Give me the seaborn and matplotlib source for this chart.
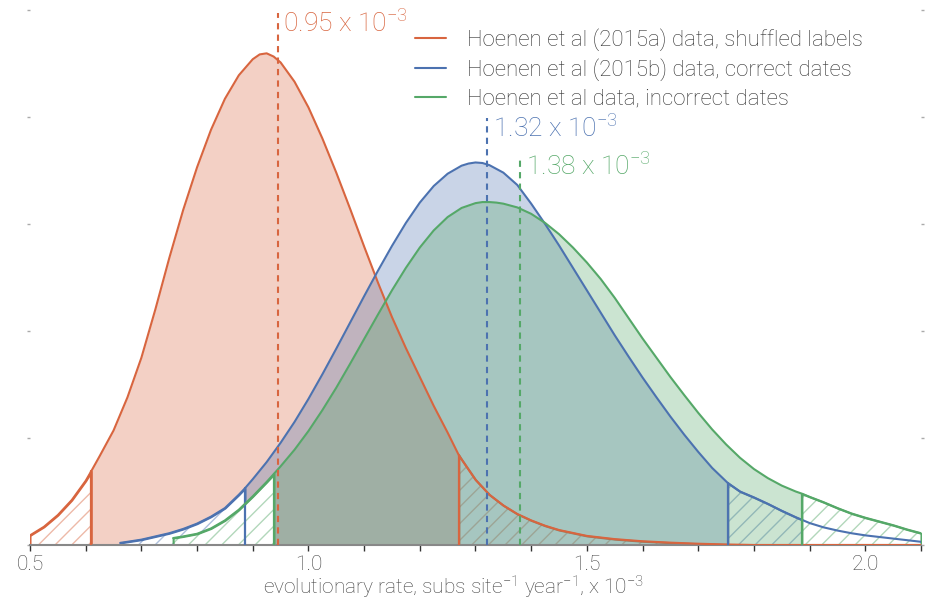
import numpy as np
import matplotlib
matplotlib.use('Agg')
import matplotlib.pyplot as plt
import seaborn as sns

# density curves (rate in units of 1e-3)
shuffled_x = [0.500, 0.525, 0.550, 0.575, 0.600, 0.610, 0.625, 0.650, 0.675, 0.700,
              0.725, 0.750, 0.775, 0.800, 0.825, 0.850, 0.875, 0.900, 0.9125, 0.925,
              0.9375, 0.950, 0.975, 1.000, 1.025, 1.050, 1.075, 1.100, 1.125, 1.150,
              1.175, 1.200, 1.225, 1.250, 1.270, 1.275, 1.300, 1.325, 1.350, 1.375,
              1.400, 1.425, 1.450, 1.500, 1.550, 1.600, 1.650, 1.700, 1.750, 1.800,
              1.900, 2.000, 2.100]
shuffled_y = [0.09, 0.17, 0.28, 0.42, 0.60, 0.69, 0.83, 1.07, 1.38, 1.75,
              2.20, 2.68, 3.13, 3.53, 3.88, 4.17, 4.39, 4.54, 4.585, 4.595,
              4.565, 4.51, 4.33, 4.09, 3.80, 3.48, 3.14, 2.79, 2.45, 2.13,
              1.84, 1.57, 1.30, 1.05, 0.84, 0.80, 0.61, 0.47, 0.37, 0.29,
              0.23, 0.18, 0.14, 0.085, 0.055, 0.035, 0.022, 0.012, 0.005, 0.0,
              0.0, 0.0, 0.0]

correct_x = [0.662, 0.675, 0.700, 0.725, 0.750, 0.775, 0.800, 0.825, 0.850, 0.875,
             0.886, 0.900, 0.925, 0.950, 0.975, 1.000, 1.025, 1.050, 1.075, 1.100,
             1.125, 1.150, 1.175, 1.200, 1.225, 1.250, 1.275, 1.2875, 1.300, 1.3125,
             1.325, 1.350, 1.375, 1.400, 1.425, 1.450, 1.475, 1.500, 1.525, 1.550,
             1.575, 1.600, 1.625, 1.650, 1.675, 1.700, 1.725, 1.753, 1.775, 1.800,
             1.825, 1.850, 1.875, 1.900, 1.925, 1.950, 1.975, 2.000, 2.050, 2.100]
correct_y = [0.02, 0.03, 0.05, 0.08, 0.11, 0.15, 0.20, 0.265, 0.345, 0.47,
             0.53, 0.615, 0.775, 0.955, 1.15, 1.365, 1.595, 1.835, 2.08, 2.325,
             2.565, 2.795, 3.01, 3.20, 3.355, 3.47, 3.545, 3.565, 3.575, 3.57,
             3.55, 3.48, 3.365, 3.19, 3.00, 2.80, 2.59, 2.38, 2.17, 1.96,
             1.76, 1.565, 1.38, 1.20, 1.03, 0.87, 0.72, 0.58, 0.50, 0.445,
             0.385, 0.32, 0.26, 0.205, 0.165, 0.135, 0.11, 0.09, 0.06, 0.03]

incorrect_x = [0.757, 0.775, 0.800, 0.825, 0.850, 0.875, 0.886, 0.900, 0.925, 0.938,
               0.950, 0.975, 1.000, 1.025, 1.050, 1.075, 1.100, 1.125, 1.150, 1.175,
               1.200, 1.225, 1.250, 1.275, 1.300, 1.3125, 1.325, 1.3375, 1.350, 1.375,
               1.400, 1.425, 1.450, 1.475, 1.500, 1.525, 1.550, 1.575, 1.600, 1.625,
               1.650, 1.675, 1.700, 1.725, 1.750, 1.775, 1.800, 1.825, 1.850, 1.875,
               1.886, 1.900, 1.925, 1.950, 1.975, 2.000, 2.025, 2.050, 2.075, 2.100]
incorrect_y = [0.065, 0.08, 0.105, 0.155, 0.23, 0.33, 0.385, 0.455, 0.59, 0.665,
               0.735, 0.89, 1.065, 1.26, 1.47, 1.695, 1.925, 2.155, 2.38, 2.59,
               2.78, 2.94, 3.065, 3.15, 3.195, 3.205, 3.205, 3.20, 3.19, 3.155,
               3.095, 3.01, 2.905, 2.78, 2.64, 2.485, 2.31, 2.12, 1.93, 1.75,
               1.57, 1.40, 1.235, 1.08, 0.94, 0.815, 0.71, 0.625, 0.555, 0.50,
               0.48, 0.45, 0.40, 0.345, 0.295, 0.255, 0.22, 0.185, 0.145, 0.11]

legend_labels = ['Hoenen et al (2015a) data, shuffled labels',
                 'Hoenen et al (2015b) data, correct dates',
                 'Hoenen et al data, incorrect dates']
hpd_lo = [0.610, 0.886, 0.938]
hpd_hi = [1.270, 1.753, 1.886]
medians = [0.945, 1.321, 1.380]
median_text = ['0.95', '1.32', '1.38']
median_top = [4.97, 3.99, 3.63]
colours = ['#d8653f', '#4c72b0', '#55a868']

sns.set_style('ticks')
plt.rcParams['font.family'] = ['Roboto', 'DejaVu Sans']
plt.rcParams['font.weight'] = 'light'
plt.rcParams['axes.labelweight'] = 'light'
plt.rcParams['mathtext.default'] = 'regular'
plt.rcParams['hatch.linewidth'] = 1.0

fig = plt.figure(figsize=(9.31, 6.01), dpi=100)
ax = fig.add_axes([30 / 931, 56 / 601, 891 / 931, 535 / 601])

series = [(shuffled_x, shuffled_y), (correct_x, correct_y), (incorrect_x, incorrect_y)]
for i, (xs, ys) in enumerate(series):
    x = np.array(xs)
    y = np.array(ys)
    c = colours[i]
    inside = (x >= hpd_lo[i]) & (x <= hpd_hi[i])
    ax.fill_between(x, y, where=inside, color=c, alpha=0.3, lw=0, zorder=1)
    for tail in [x <= hpd_lo[i], x >= hpd_hi[i]]:
        if tail.sum() > 1:
            ax.fill_between(x, y, where=tail, facecolor='white', edgecolor=c,
                            lw=1.5, zorder=1)
            ax.fill_between(x, y, where=tail, facecolor='none', edgecolor=c,
                            hatch='//', lw=0, alpha=0.45, zorder=1)
    for b in [hpd_lo[i], hpd_hi[i]]:
        ax.plot([b, b], [0, np.interp(b, x, y)], color=c, lw=1.6, zorder=3)
    sns.lineplot(x=x, y=y, color=c, lw=1.5, ax=ax, sort=False, estimator=None,
                 label=legend_labels[i], zorder=3)

for i in range(3):
    ax.plot([medians[i], medians[i]], [0, median_top[i]], color=colours[i], lw=1.5,
            ls=(0, (3, 2.5)), zorder=4)
    ax.text(medians[i] + 0.01, median_top[i] + 0.03,
            median_text[i] + ' x 10$^{-3}$', color=colours[i], fontsize=19,
            va='top', ha='left')

ax.set_xlim(0.5, 2.1)
ax.set_ylim(0, 5)
ax.set_xticks([0.5, 1.0, 1.5, 2.0])
ax.set_xticks(np.arange(0.5, 2.11, 0.1), minor=True)
ax.set_yticks(range(6))
ax.tick_params(axis='x', which='both', direction='out', length=4, width=1,
               color='#333333', labelsize=15, labelcolor='#444444', pad=3)
ax.tick_params(axis='y', left=True, right=True, length=2, width=1, color='#aaaaaa',
               labelleft=False)
for s in ['left', 'top', 'right']:
    ax.spines[s].set_visible(False)
ax.spines['bottom'].set_color('#888888')
ax.spines['bottom'].set_linewidth(1.5)
ax.set_ylabel('')
ax.set_xlabel('evolutionary rate, subs site$^{-1}$ year$^{-1}$, x 10$^{-3}$',
              fontsize=15, color='#444444', fontweight='light')
ax.xaxis.set_label_coords(0.475, -0.054)

ax.legend(loc='upper left', bbox_to_anchor=(0.432, 0.966), frameon=False,
          prop={'size': 16, 'weight': 'light'}, handlelength=1.4,
          handletextpad=0.95, labelspacing=0.33, borderpad=0, borderaxespad=0,
          labelcolor='#333333')

fig.savefig('out.png', dpi=100)
